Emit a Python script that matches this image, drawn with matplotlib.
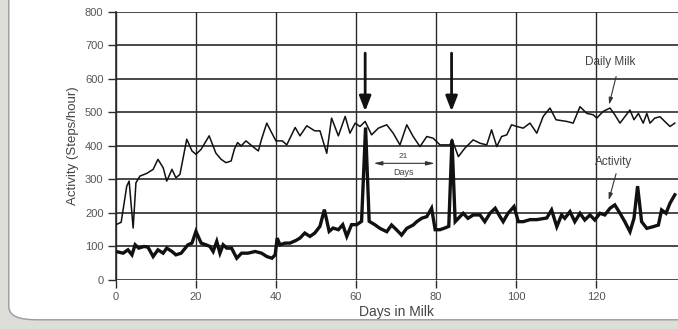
import matplotlib.pyplot as plt
from matplotlib.patches import FancyBboxPatch

plt.rcParams['font.family'] = ['Liberation Sans', 'DejaVu Sans']

# Daily milk (thin line)
milk_days = [0, 1.3, 2.7, 3.3, 4.3, 5, 6, 7.7, 9.3, 10.5, 11.8, 12.7, 14, 15, 16, 17.7, 19, 20,
             21.3, 23.3, 25, 26.3, 27.5, 28.8, 29.6, 30.4, 31.3, 32.5, 34, 35.6, 36.4, 37.7, 38.9,
             40, 41.6, 42.7, 44.8, 46, 47.7, 49.7, 51, 52.7, 53.9, 55.6, 57.3, 58.5, 59.8, 61,
             62.3, 63.9, 65.6, 67.7, 69.3, 71, 72.7, 74.3, 76, 77.7, 79.3, 81, 83.5, 84, 85.6,
             87.2, 89.3, 91, 92.7, 93.9, 95.2, 96.4, 97.7, 98.9, 100.2, 101.8, 103.5, 105.2,
             106.8, 108.5, 110, 112.7, 114.3, 116, 117.7, 119.3, 120.2, 121.8, 123.5, 124.7, 126,
             127.2, 128.5, 129.5, 130.6, 131.8, 132.7, 133.5, 134.7, 136, 137.2, 138.5, 139.7]
milk_vals = [165, 172, 280, 295, 155, 290, 310, 318, 330, 360, 335, 295, 330, 305, 315, 420, 385, 375,
             390, 430, 378, 360, 350, 355, 390, 410, 400, 415, 400, 385, 420, 468, 440,
             415, 415, 403, 455, 430, 460, 445, 445, 378, 483, 430, 488, 438, 468, 458,
             473, 433, 453, 463, 438, 403, 463, 428, 398, 428, 423, 403, 403, 420, 368,
             393, 418, 408, 403, 448, 398, 428, 433, 463, 458, 453, 468, 438,
             488, 513, 478, 473, 468, 517, 497, 493, 483, 503, 513, 493, 468,
             487, 507, 478, 497, 468, 497, 468, 483, 487, 473, 458, 468]

# Activity (thick line)
act_days = [0, 1.8, 3, 4, 4.8, 5.7, 7, 8, 9.3, 10.5, 11.8, 12.7, 14, 15, 16.3, 18, 19, 20, 21.3,
            22.5, 23.5, 24.3, 25.2, 26, 26.8, 27.7, 28.9, 30.2, 31.4, 33, 34.8, 36.4, 37.7, 39,
            39.8, 40.3, 41, 42.3, 43.5, 45, 46, 47.2, 48.5, 49.7, 51, 52.1, 53.3, 54.3, 55.6,
            56.7, 57.7, 58.9, 60.2, 61.4, 62.4, 63.3, 64.7, 66, 67.7, 68.9, 70.2, 71.4, 72.7,
            74.3, 75.2, 76.4, 77.7, 78.9, 79.8, 81, 82.2, 83.2, 84, 84.8, 86.8, 88, 89.3, 91,
            92.2, 93.5, 94.8, 96, 96.8, 98, 99.5, 100.6, 101.8, 103.5, 105.2, 107.7, 108.9,
            110.2, 111.4, 112.2, 113.5, 114.7, 116, 117.2, 118.5, 119.7, 121, 122.2, 123.5,
            124.7, 126, 127.2, 128.5, 129.5, 130.4, 131.4, 132.7, 134.3, 135.6, 136.4, 137.5,
            138.5, 139.7]
act_vals = [85, 80, 90, 75, 105, 95, 100, 98, 70, 90, 80, 95, 85, 75, 80, 105, 110, 145, 110,
            105, 100, 85, 115, 80, 105, 95, 95, 65, 80, 80, 85, 80, 70, 65,
            75, 125, 105, 110, 110, 118, 125, 140, 130, 140, 160, 210, 145, 155, 150,
            165, 130, 165, 165, 175, 455, 175, 165, 154, 144, 164, 149, 134, 154,
            164, 174, 184, 189, 214, 150, 150, 155, 160, 418, 174, 199, 184, 194, 194,
            174, 199, 214, 189, 174, 199, 219, 174, 174, 180, 180, 185, 209,
            159, 194, 184, 204, 174, 199, 179, 194, 179, 199, 194, 214,
            224, 199, 174, 144, 184, 280, 174, 154, 159, 164, 209, 199,
            229, 254]

yticks = [0, 100, 200, 300, 400, 500, 600, 700, 800]
xticks = [0, 20, 40, 60, 80, 100, 120]

fig = plt.figure(figsize=(6.78, 3.29), dpi=100, facecolor='#deded8')
frame = FancyBboxPatch((0.013, 0.028), 1.2, 1.2, boxstyle='round,pad=0,rounding_size=0.04',
                       transform=fig.transFigure, facecolor='white', edgecolor='#9a9a9a',
                       linewidth=1.0, zorder=-10)
fig.patches.append(frame)

ax = fig.add_axes([0.171, 0.149, 0.829, 0.815])
ax.set_zorder(5)
ax.set_facecolor('white')

for y in yticks:
    ax.axhline(y, color='#2a2a2a', lw=1.2, zorder=1)
for x in xticks:
    ax.axvline(x, color='#2a2a2a', lw=1.0, zorder=1)

ax.plot(milk_days, milk_vals, color='#111111', lw=1.1, zorder=3)
ax.plot(act_days, act_vals, color='#111111', lw=2.4, zorder=3, solid_joinstyle='miter')

ax.set_xlim(0, 140.5)
ax.set_ylim(0, 800)
ax.set_xticks(xticks)
ax.set_yticks(yticks)
ax.tick_params(axis='both', labelsize=8, labelcolor='#555555', color='#2a2a2a',
               length=6, width=1.0, pad=3)
for side in ['top', 'right', 'bottom']:
    ax.spines[side].set_visible(False)
ax.spines['left'].set_color('#2a2a2a')
ax.spines['left'].set_linewidth(1.2)

ax.set_xlabel('Days in Milk', fontsize=10, color='#444444', labelpad=2)
ax.set_ylabel('Activity (Steps/hour)', fontsize=9.5, color='#444444', labelpad=4)

# event arrows
for d in [62.3, 83.9]:
    ax.annotate('', xy=(d, 495), xytext=(d, 685),
                arrowprops=dict(arrowstyle='-|>,head_width=0.35,head_length=0.9',
                                color='#111111', lw=2.0), zorder=5)

# 21 days interval
ax.annotate('', xy=(63.7, 348), xytext=(80.4, 348),
            arrowprops=dict(arrowstyle='<|-|>,head_width=0.12,head_length=0.5',
                            color='#333333', lw=0.8), zorder=5)
ax.text(71.8, 368, '21', fontsize=6, ha='center', va='center', color='#444444', zorder=6)
ax.text(71.8, 322, 'Days', fontsize=6.5, ha='center', va='center', color='#444444', zorder=6)

# series labels
ax.text(123.5, 650, 'Daily Milk', fontsize=8.5, ha='center', va='center', color='#444444')
ax.annotate('', xy=(123.1, 515), xytext=(125.2, 615),
            arrowprops=dict(arrowstyle='-|>,head_width=0.12,head_length=0.4',
                            color='#333333', lw=0.8))
ax.text(124.3, 352, 'Activity', fontsize=8.5, ha='center', va='center', color='#444444')
ax.annotate('', xy=(123.0, 230), xytext=(125.2, 325),
            arrowprops=dict(arrowstyle='-|>,head_width=0.12,head_length=0.4',
                            color='#333333', lw=0.8))

fig.savefig('out.png', dpi=100, facecolor=fig.get_facecolor())
